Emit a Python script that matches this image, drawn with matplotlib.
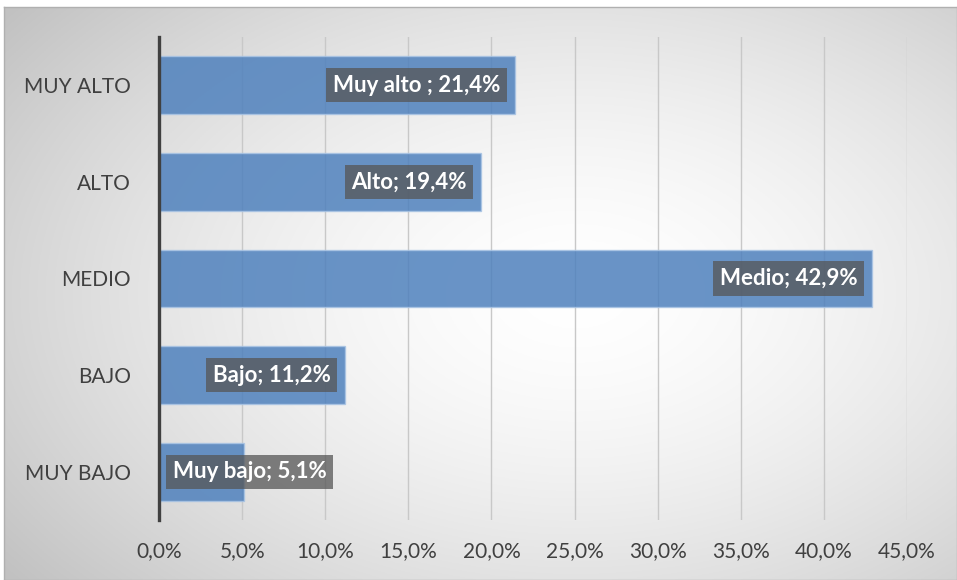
import numpy as np
import matplotlib.pyplot as plt
from matplotlib.ticker import FuncFormatter

# Datos
categorias = ['MUY BAJO', 'BAJO', 'MEDIO', 'ALTO', 'MUY ALTO']
nombres = ['Muy bajo', 'Bajo', 'Medio', 'Alto', 'Muy alto ']
porcentajes = [5.1, 11.2, 42.9, 19.4, 21.4]
ticks_x = [0, 5, 10, 15, 20, 25, 30, 35, 40, 45]

plt.rcParams['font.family'] = ['Lato', 'DejaVu Sans']

fig = plt.figure(figsize=(9.57, 5.80), dpi=100)
fig.patch.set_facecolor('white')

# Fondo con degradado radial (estilo Excel)
bg = fig.add_axes([4/957, 0, 1 - 4/957, 1 - 7/580], zorder=-2)
ny, nx = 300, 500
yy, xx = np.mgrid[0:1:ny*1j, 0:1:nx*1j]
r = np.sqrt(((xx - 0.6) / 0.75) ** 2 + ((yy - 0.5) / 0.8) ** 2)
r = np.clip(r, 0, 1)
gris = 1 - 0.24 * r ** 1.6
bg.imshow(np.dstack([gris, gris, gris]), aspect='auto', extent=[0, 1, 0, 1], origin='lower')
bg.set_xticks([])
bg.set_yticks([])
for s in bg.spines.values():
    s.set_color('#b0b0b0')
    s.set_linewidth(1)

ax = fig.add_axes([159/957, 1 - 520/580, 748/957, 483/580])
ax.set_facecolor('none')

y = np.arange(len(categorias))
valores = np.array(porcentajes) / 100
bars = ax.barh(y, valores, height=0.6, color='#4F81BD', alpha=0.85,
               edgecolor='#a9c4e4', linewidth=1, zorder=2)

ax.set_xlim(0, 0.45)
ax.set_ylim(-0.5, len(categorias) - 0.5)
ax.set_xticks(np.array(ticks_x) / 100)
ax.xaxis.set_major_formatter(FuncFormatter(lambda v, p: f'{v*100:.1f}%'.replace('.', ',')))
ax.set_yticks(y)
ax.set_yticklabels(categorias)
ax.tick_params(axis='both', length=0, labelsize=15, colors='#404040')
ax.tick_params(axis='y', pad=20)
ax.tick_params(axis='x', pad=15)

ax.grid(axis='x', color='#c8c8c8', linewidth=1, zorder=1)
ax.set_axisbelow(True)
for lado in ['top', 'right', 'bottom']:
    ax.spines[lado].set_visible(False)
ax.spines['left'].set_color('#404040')
ax.spines['left'].set_linewidth(2.4)
ax.spines['left'].set_zorder(4)

# Etiquetas de datos
caja = dict(boxstyle='square,pad=0.3', facecolor='#565656', alpha=0.75, edgecolor='none')
for yi, v, nombre in zip(y, valores, nombres):
    texto = f'{nombre}; {v*100:.1f}%'.replace('.', ',')
    if v < 0.08:
        ax.annotate(texto, xy=(0, yi), xytext=(10, 0), textcoords='offset points',
                    ha='left', va='center', color='white', fontsize=16, fontweight='bold',
                    bbox=caja, zorder=5)
    else:
        ax.annotate(texto, xy=(v, yi), xytext=(-10.6, 0), textcoords='offset points',
                    ha='right', va='center', color='white', fontsize=16, fontweight='bold',
                    bbox=caja, zorder=5)

plt.savefig('out.png', dpi=100)
